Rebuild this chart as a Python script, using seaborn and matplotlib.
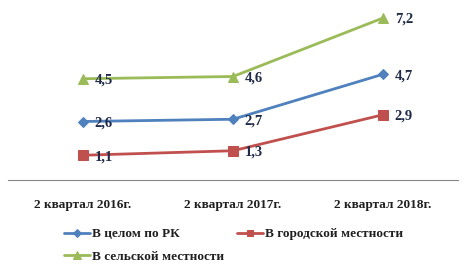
import matplotlib
matplotlib.use("Agg")
import matplotlib.pyplot as plt
import seaborn as sns
import pandas as pd

categories = ["2 квартал 2016г.", "2 квартал 2017г.", "2 квартал 2018г."]
series_names = ["В целом по РК", "В городской местности", "В сельской местности"]
total_rk = [2.6, 2.7, 4.7]
urban = [1.1, 1.3, 2.9]
rural = [4.5, 4.6, 7.2]
labels_rk = ["2,6", "2,7", "4,7"]
labels_urban = ["1,1", "1,3", "2,9"]
labels_rural = ["4,5", "4,6", "7,2"]

sns.set_style("white")
plt.rcParams['font.family'] = ['Liberation Serif', 'DejaVu Serif']

fig = plt.figure(figsize=(4.67, 2.70), dpi=100)
ax = fig.add_axes([8/467, 90/270, 450/467, 180/270])

colors = ["#4F81BD", "#C0504D", "#9BBB59"]
markers = ["D", "s", "^"]
msizes = [5.5, 6.5, 7.5]
all_vals = [total_rk, urban, rural]
all_labels = [labels_rk, labels_urban, labels_rural]

for name, vals, labs, c, m, ms in zip(series_names, all_vals, all_labels, colors, markers, msizes):
    df = pd.DataFrame({"x": range(len(categories)), "y": vals})
    sns.lineplot(data=df, x="x", y="y", ax=ax, color=c, marker=m, markersize=ms,
                 markeredgecolor=c, linewidth=2.0, label=name, legend=False)
    for i, (v, t) in enumerate(zip(vals, labs)):
        ax.annotate(t, (i, v), xytext=(8.5, -1), textcoords="offset points",
                    ha="left", va="center", fontsize=10.5, fontweight="bold",
                    color="#1F2A48", zorder=5)

ax.set_xlim(-0.5, 2.5)
ax.set_ylim(0, 8)
ax.set_xticks(range(len(categories)))
ax.set_xticklabels(categories, fontsize=9.5, fontweight="bold", color="#1F1F1F")
ax.tick_params(axis="x", length=0, pad=14)
ax.set_yticks([])
ax.set_xlabel("")
ax.set_ylabel("")
for s in ["top", "left", "right"]:
    ax.spines[s].set_visible(False)
ax.spines["bottom"].set_color("#868686")
ax.spines["bottom"].set_linewidth(0.8)

h, l = ax.get_legend_handles_labels()
order = [0, 2, 1]
leg = fig.legend([h[i] for i in order], [l[i] for i in order], loc="upper left",
                 bbox_to_anchor=(64/467, 1 - 228/270), ncol=2,
                 frameon=False, fontsize=9.5, handlelength=2.0, handletextpad=0.1,
                 columnspacing=1.0, labelspacing=0.8, borderaxespad=0, borderpad=0,
                 markerscale=0.75)
for t in leg.get_texts():
    t.set_fontweight("bold")
    t.set_color("#1F1F1F")

fig.savefig("out.png", dpi=100)
